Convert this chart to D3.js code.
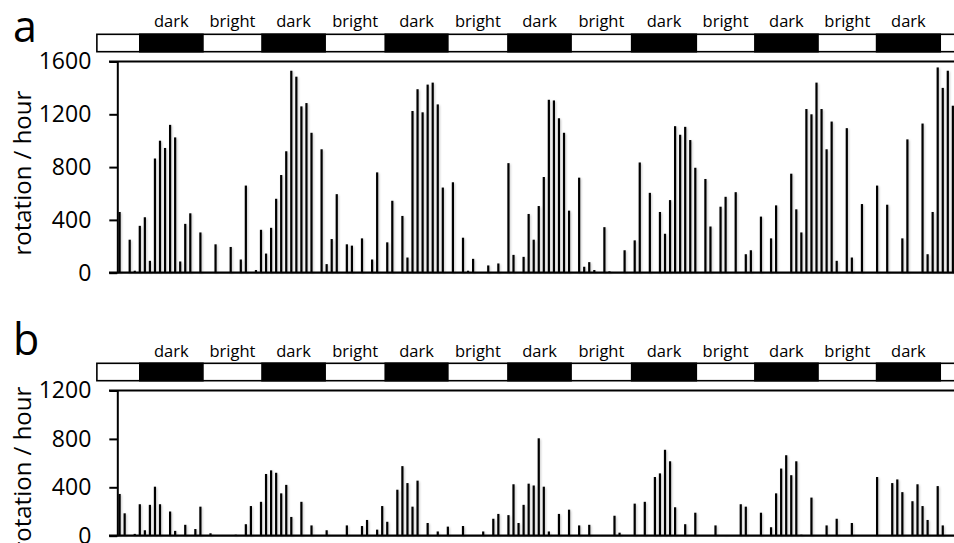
<!DOCTYPE html>
<html>
<head>
<meta charset="utf-8">
<script src="https://cdn.jsdelivr.net/npm/d3@7"></script>
<style>
  html, body { margin: 0; padding: 0; background: #fff; }
  svg { display: block; font-family: "Open Sans", "Liberation Sans", sans-serif; }
</style>
</head>
<body>
<svg id="chart" width="954" height="543"></svg>
<script>
// rotations per hour, one value per hour (0..165)
var wheelA = [
  460, 0, 250, 15, 355, 420, 90, 865, 1000, 945, 1120, 1025, 85, 370, 450, 0,
  305, 0, 0, 215, 0, 0, 195, 0, 100, 660, 0, 20, 325, 145, 340, 560,
  740, 920, 1530, 1485, 1260, 1285, 1060, 0, 935, 65, 255, 595, 0, 215, 205, 0,
  260, 0, 100, 760, 0, 230, 545, 0, 430, 115, 1225, 1390, 1215, 1425, 1440, 1275,
  645, 0, 685, 0, 265, 15, 105, 0, 0, 55, 0, 70, 0, 830, 135, 0,
  120, 445, 250, 505, 725, 1310, 1305, 1170, 1060, 470, 0, 720, 45, 80, 20, 0,
  345, 10, 0, 0, 170, 0, 245, 835, 0, 605, 0, 460, 295, 550, 1110, 1045,
  1105, 1005, 795, 0, 710, 350, 0, 500, 575, 0, 610, 0, 140, 170, 0, 425,
  0, 260, 510, 0, 0, 750, 480, 305, 1240, 1200, 1440, 1240, 935, 1145, 90, 0,
  1095, 115, 0, 520, 0, 0, 660, 0, 515, 0, 0, 260, 1010, 0, 0, 1130,
  140, 460, 1555, 1400, 1530, 1265
];
var wheelB = [
  345, 185, 0, 15, 260, 45, 255, 405, 260, 0, 200, 40, 0, 90, 0, 55,
  240, 0, 20, 0, 0, 0, 0, 8, 0, 95, 245, 0, 280, 510, 540, 520,
  350, 420, 155, 0, 280, 0, 85, 0, 0, 45, 0, 0, 0, 85, 0, 0,
  80, 130, 0, 50, 245, 115, 0, 380, 575, 435, 240, 455, 0, 105, 0, 35,
  0, 75, 0, 0, 80, 0, 0, 0, 35, 0, 140, 180, 0, 170, 425, 105,
  255, 430, 415, 805, 405, 35, 0, 180, 0, 215, 0, 85, 0, 90, 0, 0,
  0, 0, 165, 25, 0, 0, 265, 0, 280, 0, 485, 515, 710, 615, 235, 0,
  95, 0, 190, 0, 0, 0, 85, 0, 5, 0, 0, 260, 240, 0, 0, 190,
  0, 70, 350, 555, 665, 500, 615, 8, 0, 315, 0, 0, 85, 0, 140, 0,
  0, 105, 0, 0, 0, 0, 485, 0, 0, 435, 465, 360, 0, 285, 425, 245,
  130, 0, 410, 85, 0, 0
];

// light schedule in hours (dark phases)
var darkStart = [4.0, 28.2, 52.6, 76.9, 101.4, 125.8, 149.9];
var darkEnd = [16.5, 40.7, 65.0, 89.4, 114.2, 138.3, 162.5];
var darkLabels = ["dark", "dark", "dark", "dark", "dark", "dark", "dark"];
var brightLabels = ["bright", "bright", "bright", "bright", "bright", "bright"];

var ticksA = [0, 400, 800, 1200, 1600];
var ticksB = [0, 400, 800, 1200];

var svg = d3.select("#chart");

var x = d3.scaleLinear().domain([0, 168]).range([119.6, 119.6 + 168 * 5.05]);

var defs = svg.append("defs");
defs.append("filter")
    .attr("id", "shadow")
    .attr("x", "-200%").attr("y", "-5%")
    .attr("width", "500%").attr("height", "110%")
  .append("feDropShadow")
    .attr("dx", 1).attr("dy", 1)
    .attr("stdDeviation", 1)
    .attr("flood-color", "#000")
    .attr("flood-opacity", 0.22);

function panel(opts) {
  var g = svg.append("g");
  var y = d3.scaleLinear().domain([0, opts.max]).range([opts.y0, opts.y1]);

  // panel letter
  g.append("text")
      .attr("x", 13).attr("y", opts.letterY)
      .attr("font-size", 43)
      .text(opts.letter);

  // light / dark bar
  var barTop = opts.barTop, barH = 17.4;
  g.append("rect")
      .attr("x", x(-4.5)).attr("y", barTop)
      .attr("width", x(175) - x(-4.5)).attr("height", barH)
      .attr("fill", "#fff").attr("stroke", "#000").attr("stroke-width", 1.6);
  g.selectAll(".dark")
    .data(darkStart)
    .enter().append("rect")
      .attr("x", function(d) { return x(d); })
      .attr("y", barTop)
      .attr("width", function(d, i) { return x(darkEnd[i]) - x(d); })
      .attr("height", barH)
      .attr("fill", "#000").attr("stroke", "#000").attr("stroke-width", 1.6);

  g.selectAll(".dlab")
    .data(darkLabels)
    .enter().append("text")
      .attr("x", function(d, i) { return (x(darkStart[i]) + x(darkEnd[i])) / 2; })
      .attr("y", opts.labelY)
      .attr("text-anchor", "middle")
      .attr("font-size", 16.5)
      .text(function(d) { return d; });
  g.selectAll(".blab")
    .data(brightLabels)
    .enter().append("text")
      .attr("x", function(d, i) { return (x(darkEnd[i]) + x(darkStart[i + 1])) / 2; })
      .attr("y", opts.labelY)
      .attr("text-anchor", "middle")
      .attr("font-size", 16.5)
      .text(function(d) { return d; });

  // bars, one per hour
  var hours = opts.data
      .map(function(v, i) { return { hour: i, value: v }; })
      .filter(function(d) { return d.value > 0; });
  g.append("g")
      .attr("filter", "url(#shadow)")
    .selectAll("rect")
    .data(hours)
    .enter().append("rect")
      .attr("x", function(d) { return x(d.hour) - 1.1; })
      .attr("y", function(d) { return y(d.value); })
      .attr("width", 2.2)
      .attr("height", function(d) { return y(0) - y(d.value); })
      .attr("fill", "#000");

  // frame lines
  g.append("line")
      .attr("x1", 109).attr("x2", 960)
      .attr("y1", y(opts.max)).attr("y2", y(opts.max))
      .attr("stroke", "#000").attr("stroke-width", 2);
  g.append("line")
      .attr("x1", 109).attr("x2", 960)
      .attr("y1", y(0)).attr("y2", y(0))
      .attr("stroke", "#000").attr("stroke-width", 2.2);

  var axis = g.append("g")
      .attr("transform", "translate(117.3,0)")
      .call(d3.axisLeft(y).tickValues(opts.ticks).tickFormat(d3.format("d"))
        .tickSize(8).tickSizeOuter(0).tickPadding(18));
  axis.select(".domain").attr("stroke-width", 2);
  axis.selectAll(".tick line").attr("stroke-width", 2);
  axis.selectAll(".tick text")
      .attr("font-size", 23)
      .attr("font-family", "\"Open Sans\", sans-serif")
      .attr("fill", "#000");

  g.append("text")
      .attr("transform", "translate(31," + ((opts.y0 + opts.y1) / 2 + 6) + ") rotate(-90)")
      .attr("text-anchor", "middle")
      .attr("font-size", 24)
      .text("rotation / hour");
}

panel({ letter: "a", letterY: 42, barTop: 34.3, labelY: 26.5, data: wheelA,
        max: 1600, ticks: ticksA, y0: 272.7, y1: 61.5 });
panel({ letter: "b", letterY: 355, barTop: 363.3, labelY: 356.5, data: wheelB,
        max: 1200, ticks: ticksB, y0: 535.7, y1: 390.5 });
</script>
</body>
</html>
